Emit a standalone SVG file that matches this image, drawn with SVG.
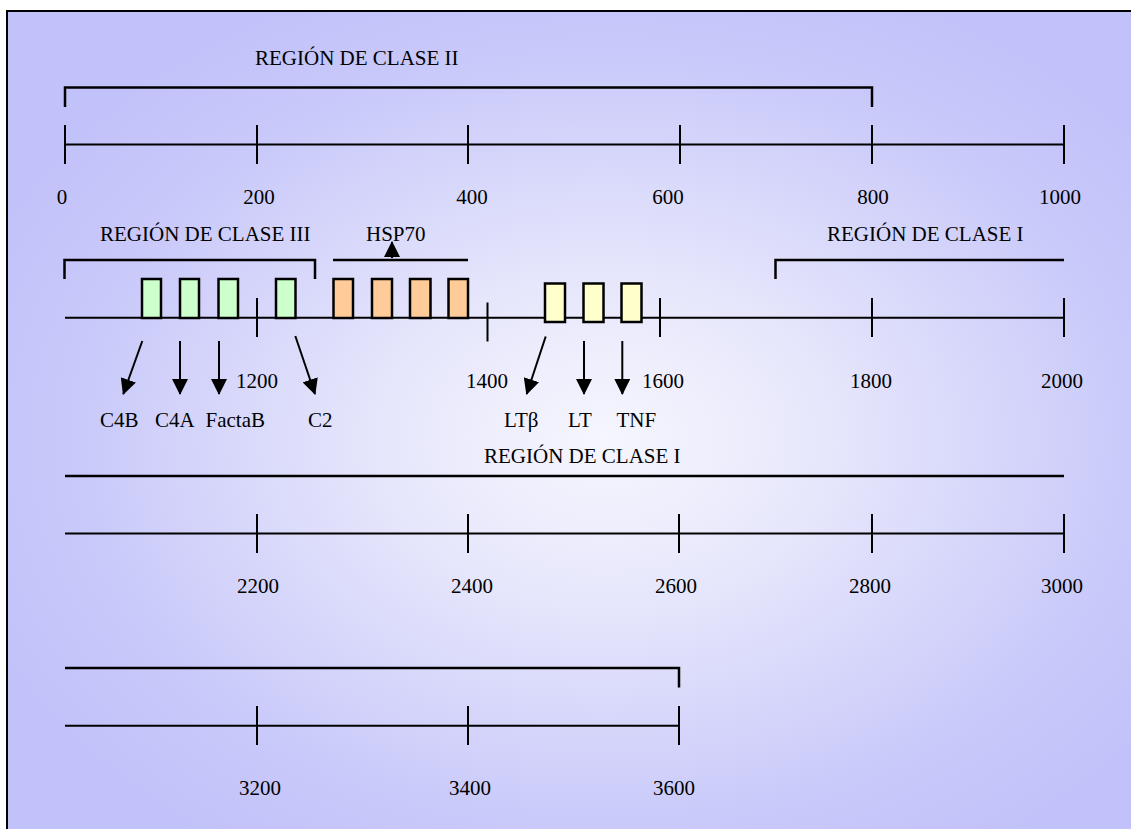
<svg xmlns="http://www.w3.org/2000/svg" width="1131" height="829" viewBox="0 0 1131 829">
  <defs>
    <radialGradient id="bg" cx="0.53" cy="0.52" r="0.6" gradientUnits="objectBoundingBox">
      <stop offset="0" stop-color="#f6f6fe"/>
      <stop offset="0.3" stop-color="#e8e8fc"/>
      <stop offset="0.8" stop-color="#c8c8fa"/>
      <stop offset="1" stop-color="#c2c2fa"/>
    </radialGradient>
    <marker id="head" markerUnits="userSpaceOnUse" markerWidth="16" markerHeight="16" viewBox="0 0 16 16" refX="15" refY="8" orient="auto">
      <path d="M0,0 L16,8 L0,16 Z" fill="#000"/>
    </marker>
  </defs>
  <style>
    text { font-family: "Liberation Serif", "Times New Roman", serif; font-size: 21px; fill: #000; }
    .num { text-anchor: middle; }
    .ln { stroke: #000; stroke-width: 2; fill: none; }
    .br { stroke: #000; stroke-width: 2.5; fill: none; }
    .box { stroke: #000; stroke-width: 2.5; }
    .g { fill: #ccffcc; }
    .o { fill: #ffcc99; }
    .y { fill: #ffffcc; }
    .arr { stroke: #000; stroke-width: 2; marker-end: url(#head); }
  </style>

  <rect x="7" y="11" width="1130" height="825" fill="url(#bg)" stroke="#000" stroke-width="2"/>

  <!-- Scale 0 - 1000 -->
  <g id="row1">
    <text x="255" y="65">REGIÓN DE CLASE II</text>
    <path class="br" d="M65,107 V87.5 H872 V107"/>
    <path class="ln" d="M65,144.5 H1064"/>
    <path class="ln" d="M65,125 V164 M257,125 V164 M468,125 V164 M680,125 V164 M872,125 V164 M1064,125 V164"/>
    <text class="num" x="62" y="204">0</text>
    <text class="num" x="259" y="204">200</text>
    <text class="num" x="472" y="204">400</text>
    <text class="num" x="668" y="204">600</text>
    <text class="num" x="873" y="204">800</text>
    <text class="num" x="1060" y="204">1000</text>
  </g>

  <!-- Scale 1000 - 2000 with genes -->
  <g id="row2">
    <text x="100" y="241">REGIÓN DE CLASE III</text>
    <text x="366" y="241">HSP70</text>
    <text x="827" y="241">REGIÓN DE CLASE I</text>
    <path class="br" d="M64.5,279 V260 H315 V279"/>
    <path class="br" d="M333,260 H468"/>
    <path class="br" d="M775.5,279 V260 H1064"/>
    <path class="ln" d="M65,317.7 H1064"/>
    <path class="ln" d="M257,298 V337 M487.5,302.5 V341.5 M660,298 V337 M872,298 V337 M1064,298 V337"/>
    <text class="num" x="257" y="388">1200</text>
    <text class="num" x="487" y="388">1400</text>
    <text class="num" x="663" y="388">1600</text>
    <text class="num" x="871" y="388">1800</text>
    <text class="num" x="1062" y="388">2000</text>
  </g>

  <g id="class3-genes">
    <rect class="box g" x="142" y="279" width="19" height="39"/>
    <rect class="box g" x="180" y="279" width="19" height="39"/>
    <rect class="box g" x="218.5" y="279" width="19.5" height="39"/>
    <rect class="box g" x="276" y="279" width="19.5" height="39"/>
  </g>
  <g id="hsp70-genes">
    <rect class="box o" x="333.5" y="279" width="19.5" height="39"/>
    <rect class="box o" x="372" y="279" width="20" height="39"/>
    <rect class="box o" x="410" y="279" width="20.5" height="39"/>
    <rect class="box o" x="448.5" y="279" width="19.5" height="39"/>
  </g>
  <g id="tnf-genes">
    <rect class="box y" x="545" y="283.5" width="20" height="38.5"/>
    <rect class="box y" x="583.5" y="283.5" width="20" height="38.5"/>
    <rect class="box y" x="621.5" y="283.5" width="20" height="38.5"/>
  </g>

  <g id="connectors">
    <line class="arr" x1="392" y1="258" x2="392" y2="242"/>
    <line class="arr" x1="142.3" y1="341" x2="123.3" y2="394"/>
    <line class="arr" x1="180" y1="341" x2="180" y2="394"/>
    <line class="arr" x1="219" y1="341" x2="219" y2="394"/>
    <line class="arr" x1="295.3" y1="336" x2="315" y2="394"/>
    <line class="arr" x1="545.7" y1="336.5" x2="526.7" y2="394"/>
    <line class="arr" x1="584" y1="341" x2="584" y2="394"/>
    <line class="arr" x1="622.3" y1="341" x2="622.3" y2="394"/>
  </g>

  <g id="gene-labels">
    <text x="100" y="427">C4B</text>
    <text x="155" y="427">C4A</text>
    <text x="205.5" y="427">FactaB</text>
    <text x="308" y="427">C2</text>
    <text x="504" y="427">LTβ</text>
    <text x="568" y="427">LT</text>
    <text x="616.5" y="427">TNF</text>
  </g>

  <!-- Scale 2000 - 3000 -->
  <g id="row3">
    <text x="484" y="463">REGIÓN DE CLASE I</text>
    <path class="br" d="M65,476 H1064"/>
    <path class="ln" d="M65,533.5 H1064"/>
    <path class="ln" d="M257,514 V553 M468,514 V553 M679,514 V553 M872,514 V553 M1064,514 V553"/>
    <text class="num" x="258" y="593">2200</text>
    <text class="num" x="472" y="593">2400</text>
    <text class="num" x="676" y="593">2600</text>
    <text class="num" x="870" y="593">2800</text>
    <text class="num" x="1062" y="593">3000</text>
  </g>

  <!-- Scale 3000 - 3600 -->
  <g id="row4">
    <path class="br" d="M65,668 H679 V687.5"/>
    <path class="ln" d="M65,725.7 H679"/>
    <path class="ln" d="M257,706 V745 M468,706 V745 M679,706 V745"/>
    <text class="num" x="260" y="795">3200</text>
    <text class="num" x="470" y="795">3400</text>
    <text class="num" x="674" y="795">3600</text>
  </g>
</svg>
